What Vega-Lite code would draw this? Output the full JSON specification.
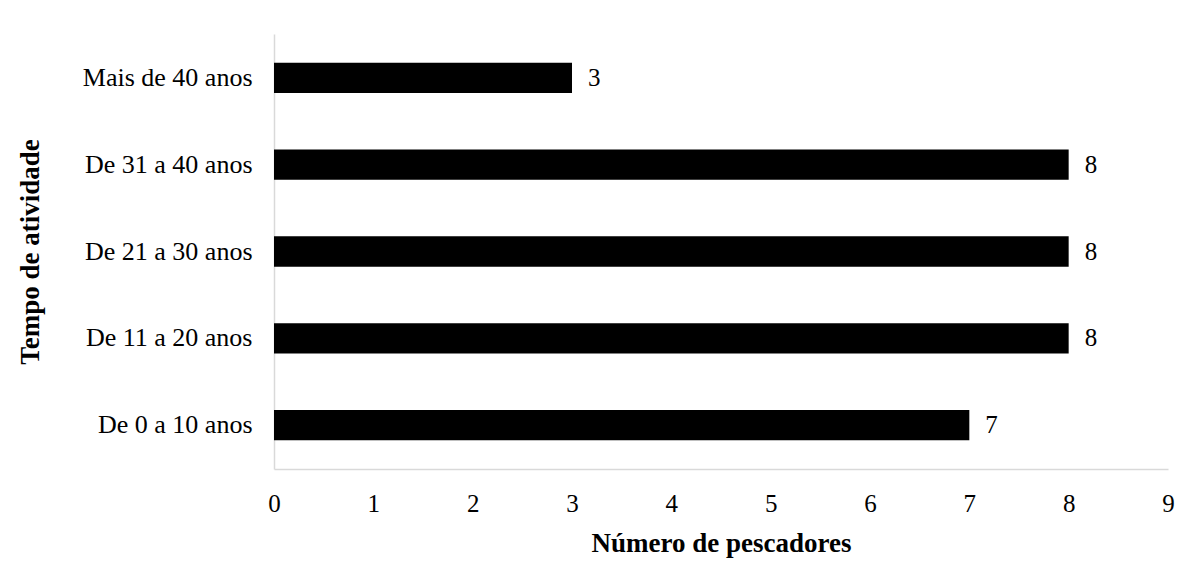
{
  "$schema": "https://vega.github.io/schema/vega-lite/v6.json",
  "width": 894,
  "height": 435,
  "autosize": {"type": "none"},
  "padding": {"left": 274, "top": 34, "right": 32, "bottom": 113},
  "background": "white",
  "config": {
    "view": {"stroke": null},
    "font": "Liberation Serif",
    "axis": {"labelFont": "Liberation Serif", "titleFont": "Liberation Serif", "labelColor": "black", "titleColor": "black"}
  },
  "data": {
    "values": [
      {"cat": "Mais de 40 anos", "n": 3},
      {"cat": "De 31 a 40 anos", "n": 8},
      {"cat": "De 21 a 30 anos", "n": 8},
      {"cat": "De 11 a 20 anos", "n": 8},
      {"cat": "De 0 a 10 anos", "n": 7}
    ]
  },
  "encoding": {
    "y": {
      "field": "cat", "type": "nominal", "sort": null,
      "scale": {"paddingInner": 0.65, "paddingOuter": 0.33},
      "axis": {
        "title": "Tempo de atividade", "titleFontSize": 27, "titleFontWeight": "bold", "titlePadding": 38,
        "labelFontSize": 26, "labelPadding": 22, "ticks": false, "domainColor": "#d9d9d9", "domainWidth": 1.5
      }
    },
    "x": {
      "field": "n", "type": "quantitative",
      "scale": {"domain": [0, 9], "nice": false},
      "axis": {
        "title": "Número de pescadores", "titleFontSize": 27, "titleFontWeight": "bold", "titlePadding": 14,
        "labelFontSize": 25, "labelPadding": 22, "labelFlush": false, "ticks": false, "grid": false, "tickCount": 9,
        "domainColor": "#d9d9d9", "domainWidth": 1.5
      }
    }
  },
  "layer": [
    {"mark": {"type": "bar", "color": "black"}},
    {"mark": {"type": "text", "align": "left", "dx": 16, "fontSize": 25, "font": "Liberation Serif", "color": "black"},
     "encoding": {"text": {"field": "n", "type": "quantitative"}}}
  ]
}
